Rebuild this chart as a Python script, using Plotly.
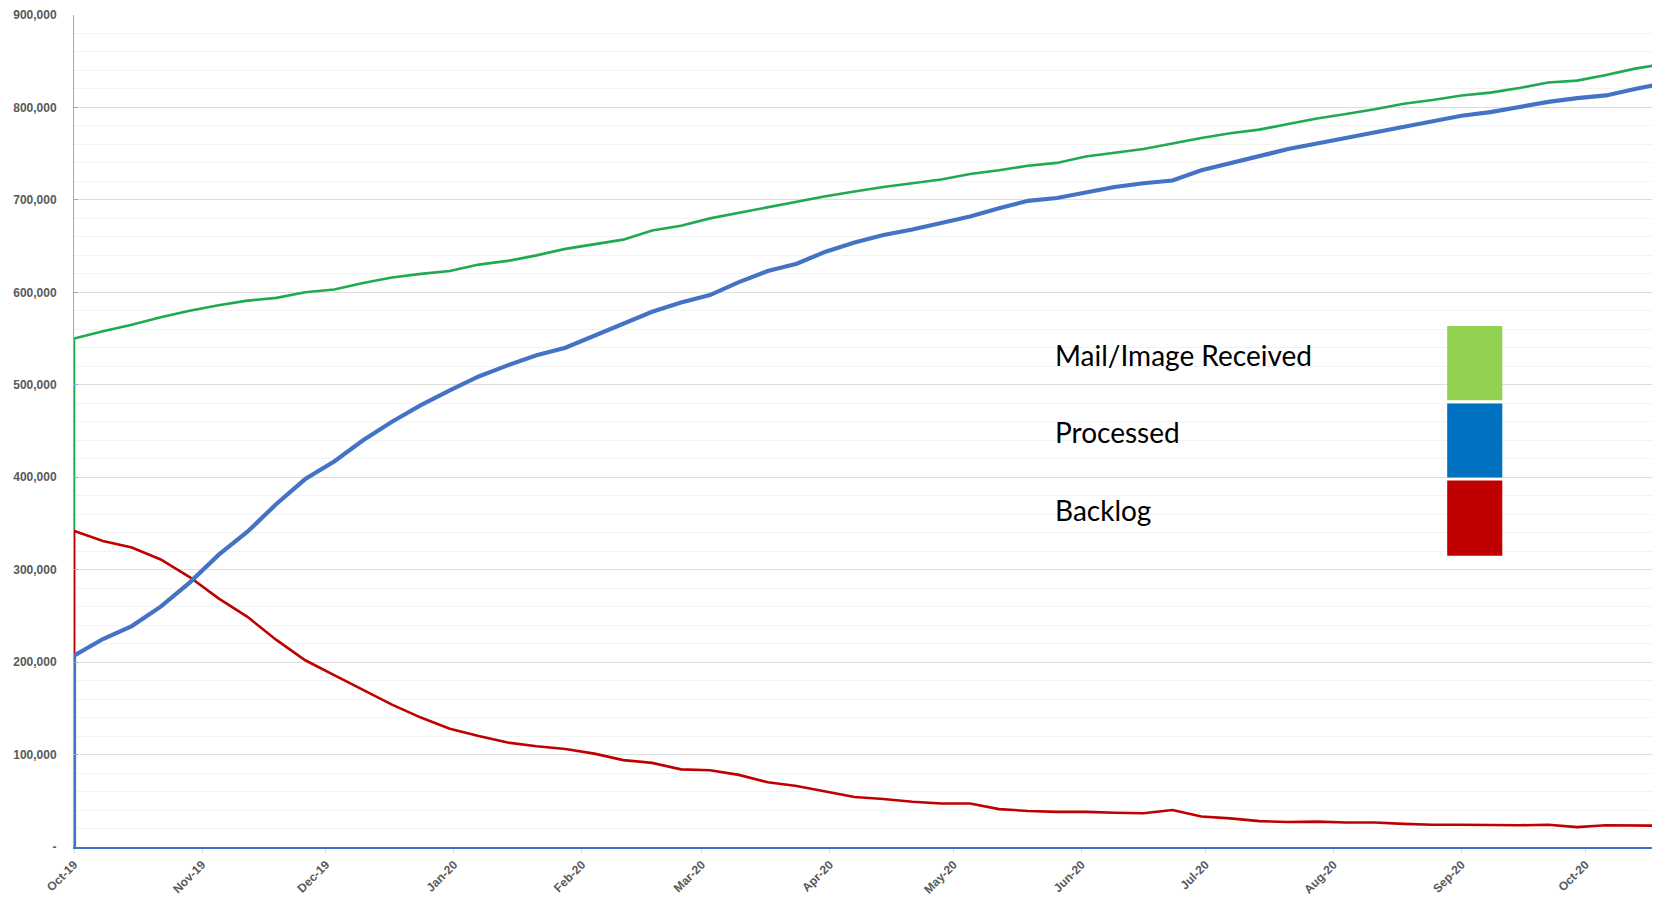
import datetime as dt
import plotly.graph_objects as go

# ---- data (weekly, thousands) ----
start_date = dt.date(2019, 10, 1)
n_weeks = 56
dates = [start_date + dt.timedelta(weeks=i) for i in range(n_weeks)]

received_k = [550, 558, 565, 573, 580, 586, 591, 594, 600, 603,
              610, 616, 620, 623, 630, 634, 640, 647, 652, 657,
              667, 672, 680, 686, 692, 698, 704, 709, 714, 718,
              722, 728, 732, 737, 740, 747, 751, 755, 761, 767,
              772, 776, 782, 788, 793, 798, 804, 808, 813, 816,
              821, 827, 829, 835, 842, 847]

processed_k = [207, 225, 239, 260, 286, 316, 341, 371, 398, 417,
               440, 460, 478, 494, 509, 521, 532, 540, 553, 567,
               579, 589, 597, 611, 623, 631, 644, 654, 662, 668,
               675, 682, 691, 699, 702, 708, 714, 718, 721, 732,
               740, 748, 755, 761, 767, 773, 780, 786, 791, 795,
               801, 806, 810, 813, 820, 826]

backlog_k = [342, 331, 324, 311, 292, 269, 249, 224, 202, 186,
             170, 154, 140, 128, 120, 113, 109, 106, 101, 94,
             91, 84, 83, 78, 70, 66, 60, 54, 52, 49,
             47, 47, 41, 39, 38, 38, 37, 36.5, 40, 33,
             31, 28, 27, 27.5, 26.5, 26.5, 25, 24, 24, 23.5,
             23.5, 24, 21.5, 23.5, 23.5, 23]

series_names = ["Mail/Image Received", "Processed", "Backlog"]
line_colors = ["#1faa52", "#4472c4", "#c00000"]
swatch_colors = ["#92d050", "#0070c0", "#c00000"]
start_value = 0  # each series rises from zero at the first date

y_tickvals = [0, 100000, 200000, 300000, 400000, 500000, 600000, 700000, 800000, 900000]
y_ticktext = ["-", "100,000", "200,000", "300,000", "400,000", "500,000",
              "600,000", "700,000", "800,000", "900,000"]
month_ticks = [dt.date(2019 + (9 + m) // 12, (9 + m) % 12 + 1, 1) for m in range(13)]
month_labels = [d.strftime("%b-%y") for d in month_ticks]

# ---- figure ----
fig = go.Figure()
x_full = [dates[0]] + dates
series = [received_k, backlog_k, processed_k]
order = [0, 2, 1]
widths = [2.6, 2.6, 4.2]
for k, (idx, vals) in enumerate(zip(order, series)):
    y_full = [start_value] + [v * 1000 for v in vals]
    fig.add_trace(go.Scatter(
        x=x_full, y=y_full, mode="lines", name=series_names[idx],
        line=dict(color=line_colors[idx], width=widths[k]),
        showlegend=False,
    ))

tick_font = dict(family="Liberation Sans, Arial, sans-serif", size=12, color="#595959")

fig.update_layout(
    width=1660, height=898,
    margin=dict(l=66, r=0, t=7, b=59),
    paper_bgcolor="white", plot_bgcolor="white",
    xaxis=dict(
        type="date",
        range=[dates[0], start_date + dt.timedelta(days=386)],
        tickmode="array", tickvals=month_ticks, ticktext=[f"<b>{t}</b>" for t in month_labels],
        tickangle=-45, tickfont=tick_font,
        showgrid=False, showline=True, linecolor="#4472c4", linewidth=2,
        ticks="outside", ticklen=4, tickcolor="#d9d9d9",
        zeroline=False, automargin=False,
    ),
    yaxis=dict(
        range=[0, 900000],
        tickmode="array", tickvals=y_tickvals, ticktext=[f"<b>{t}</b>" for t in y_ticktext],
        tickfont=tick_font,
        showgrid=True, gridcolor="#dedede", gridwidth=1,
        minor=dict(dtick=20000, showgrid=True, gridcolor="#f3f3f3", gridwidth=1),
        showline=True, linecolor="#8faadc", linewidth=1,
        ticks="inside", ticklen=4, tickcolor="#8faadc",
        zeroline=False, automargin=False, ticklabelstandoff=14,
    ),
)

# ---- custom legend (text + colour blocks) ----
legend_font = dict(family="Lato, Open Sans, sans-serif", size=28, color="#000000")
text_y = [0.5917, 0.4988, 0.4047]
block_y = [(0.537, 0.6261), (0.4441, 0.5332), (0.35, 0.4404)]
plot_w = 1660 - 66
for name, ty, col, (y0, y1) in zip(series_names, text_y, swatch_colors, block_y):
    fig.add_annotation(x=(1045 - 66) / plot_w, y=ty, xref="paper", yref="paper", text=name,
                       showarrow=False, xanchor="left", yanchor="middle", font=legend_font)
    fig.add_shape(type="rect", xref="paper", yref="paper",
                  x0=(1439.2 - 66) / plot_w, x1=(1494.3 - 66) / plot_w, y0=y0, y1=y1,
                  fillcolor=col, line=dict(width=0), layer="above")

fig.write_html("out.html")
